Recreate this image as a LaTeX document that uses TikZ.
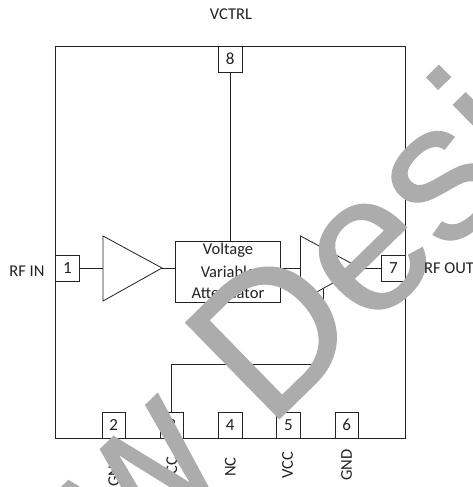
\documentclass[tikz,border=0pt]{standalone}
\usepackage{fontspec}
\setmainfont{Carlito}
\newfontfamily\wmfont[FakeBold=0.6]{Liberation Sans}
\definecolor{wm}{HTML}{ACACAC}
\definecolor{ink}{HTML}{222222}
\tikzset{
  pinbox/.style={draw=ink,line width=0.8pt,minimum width=23.5pt,minimum height=26pt,inner sep=0pt,font=\fontsize{17}{17}\selectfont,text=ink},
  wire/.style={draw=ink,line width=0.8pt},
  lab/.style={inner sep=0pt,font=\fontsize{16.5}{17}\selectfont,text=ink},
  vlab/.style={lab,rotate=90},
  watermark/.style={inner sep=0pt,text=wm,font=\wmfont\fontsize{195}{195}\selectfont}
}
\begin{document}
\begin{tikzpicture}[x=1pt,y=-1pt]
\useasboundingbox (0,0) rectangle (473,487);
\fill[white] (0,0) rectangle (473,487);
\node[draw=ink,line width=0.8pt,minimum width=349.3pt,minimum height=392pt,inner sep=0pt] (chip) at (230.35,242) {};
\node[pinbox] (p1) at (67.5,268) {1};
\node[pinbox] (p2) at (113.75,425) {2};
\node[pinbox] (p3) at (171.75,425) {3};
\node[pinbox] (p4) at (230.25,425) {4};
\node[pinbox] (p5) at (288.5,425) {5};
\node[pinbox] (p6) at (346.75,425) {6};
\node[pinbox] (p7) at (393.5,268) {7};
\node[pinbox] (p8) at (230.25,59) {8};
\node[draw=ink,line width=0.8pt,minimum width=105pt,minimum height=61pt,inner sep=0pt] (vva) at (227.5,271.5) {};
\node[lab] (v1) at (228,250) {Voltage};
\node[lab] (v2) at (228,271.5) {Variable};
\node[lab] (v3) at (228,293) {Attenuator};
\coordinate (a1t) at (103,236); \coordinate (a1b) at (103,301); \coordinate (a1o) at (162,268); \coordinate (a1i) at (103,268);
\coordinate (a2t) at (300.5,236); \coordinate (a2b) at (300.5,301); \coordinate (a2o) at (360,268); \coordinate (a2i) at (300.5,268);
\draw[wire] (a1t) -- (a1o) -- (a1b) -- cycle;
\draw[wire] (a2t) -- (a2o) -- (a2b) -- cycle;
\draw[wire] (p1.east) -- (a1i);
\draw[wire] (a1o) -- (a1o -| vva.west);
\draw[wire] (a2i -| vva.east) -- (a2i);
\draw[wire] (a2o) -- (p7.west);
\draw[wire] (p8.south) -- (p8.south |- vva.north);
\coordinate (bus) at (323.5,364);
\coordinate (a2s) at (323.5,288.5);
\draw[wire] (p3.north) -- (p3.north |- bus) -- (bus) -- (a2s);
\node[vlab] (l2) at (113.75,471) {GND};
\node[vlab] (l3) at (171.75,470) {VCC};
\node[vlab] (l4) at (230.25,467) {NC};
\node[vlab] (l5) at (287.5,465) {VCC};
\node[vlab] (l6) at (346.5,465) {GND};
\node[watermark,rotate=44.3,anchor=base west] (wmk) at (-50,740) {New Desi};
\node[lab] (ctl) at (231,14) {VCTRL};
\node[lab] (rfin) at (27,271) {RF IN};
\node[lab] (rfout) at (449,268) {RF OUT};
\end{tikzpicture}
\end{document}
